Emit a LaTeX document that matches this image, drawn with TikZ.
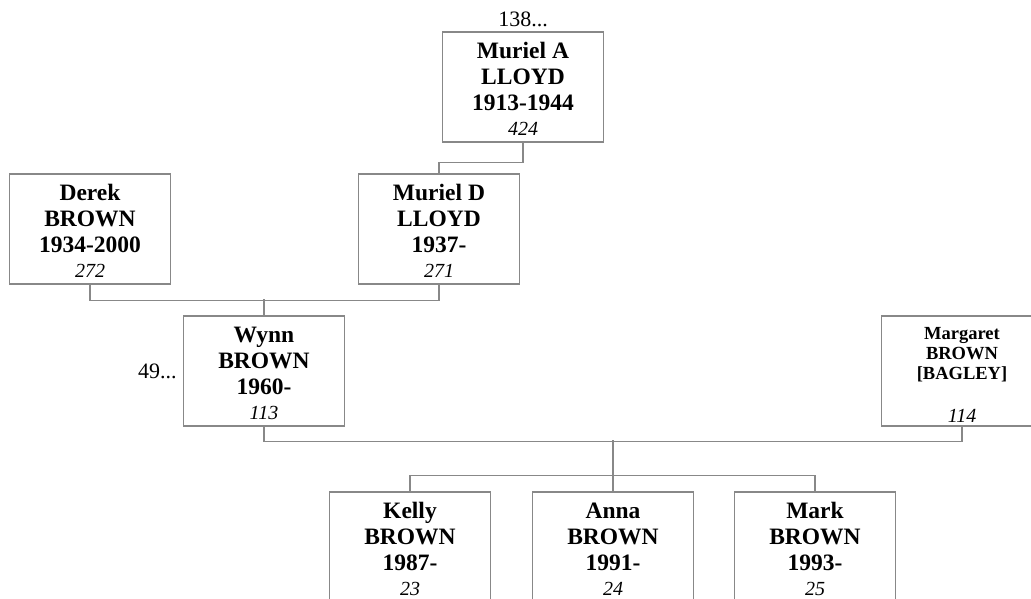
\documentclass[tikz,border=0pt]{standalone}
\usepackage{fontspec}
\setmainfont{Liberation Serif}
\usetikzlibrary{positioning}
\definecolor{linegray}{RGB}{136,136,136}
\tikzset{
    person/.style={draw=linegray,line width=1.3pt,minimum width=161pt,minimum height=110pt,
        align=center,inner sep=0pt,font=\fontsize{23.5}{26}\selectfont\bfseries},
    link/.style={draw=linegray,line width=1.3pt},
    more/.style={font=\fontsize{22}{24}\selectfont,inner sep=0pt},
}
\newcommand{\refno}[1]{{\fontsize{20}{22}\selectfont\mdseries\itshape #1}}
% name, surname, years, reference number
\newcommand{\entry}[4]{\rule{0pt}{20pt}#1\\#2\\#3\\[-1pt]\refno{#4}}
\begin{document}
\begin{tikzpicture}[x=1pt,y=-1pt]
\clip (0,0) rectangle (1031,598);
% ancestors
\node[person] (murielA) at (523,87) {\entry{Muriel A}{LLOYD}{1913-1944}{424}};
\node[person] (derek) at (90,229) {\entry{Derek}{BROWN}{1934-2000}{272}};
\node[person] (murielD) at (439,229) {\entry{Muriel D}{LLOYD}{1937-}{271}};
% couple
\node[person] (wynn) at (264,371) {\entry{Wynn}{BROWN}{1960-}{113}};
\node[person,font=\fontsize{18.5}{20}\selectfont\bfseries] (margaret) at (962,371)
    {\rule{0pt}{20pt}Margaret\\BROWN\\{[BAGLEY]}\\[23pt]\refno{114}};
% children
\node[person] (kelly) at (410,547) {\entry{Kelly}{BROWN}{1987-}{23}};
\node[person] (anna) at (613,547) {\entry{Anna}{BROWN}{1991-}{24}};
\node[person] (mark) at (815,547) {\entry{Mark}{BROWN}{1993-}{25}};
\node[more,above=4pt of murielA] (murielAmore) {138...};
\node[more,left=6pt of wynn] (wynnmore) {49...};
% lines
\draw[link] (murielA.south) -- ++(0,20) -| (murielD.north);
\draw[link] (derek.south) -- ++(0,16) -| (murielD.south);
\draw[link] (wynn.north) -- ++(0,-16);
\draw[link] (wynn.south) -- ++(0,15) -| (margaret.south);
\draw[link] (anna.north) -- ++(0,-51);
\draw[link] (kelly.north) -- ++(0,-16) -| (mark.north);
\end{tikzpicture}
\end{document}
